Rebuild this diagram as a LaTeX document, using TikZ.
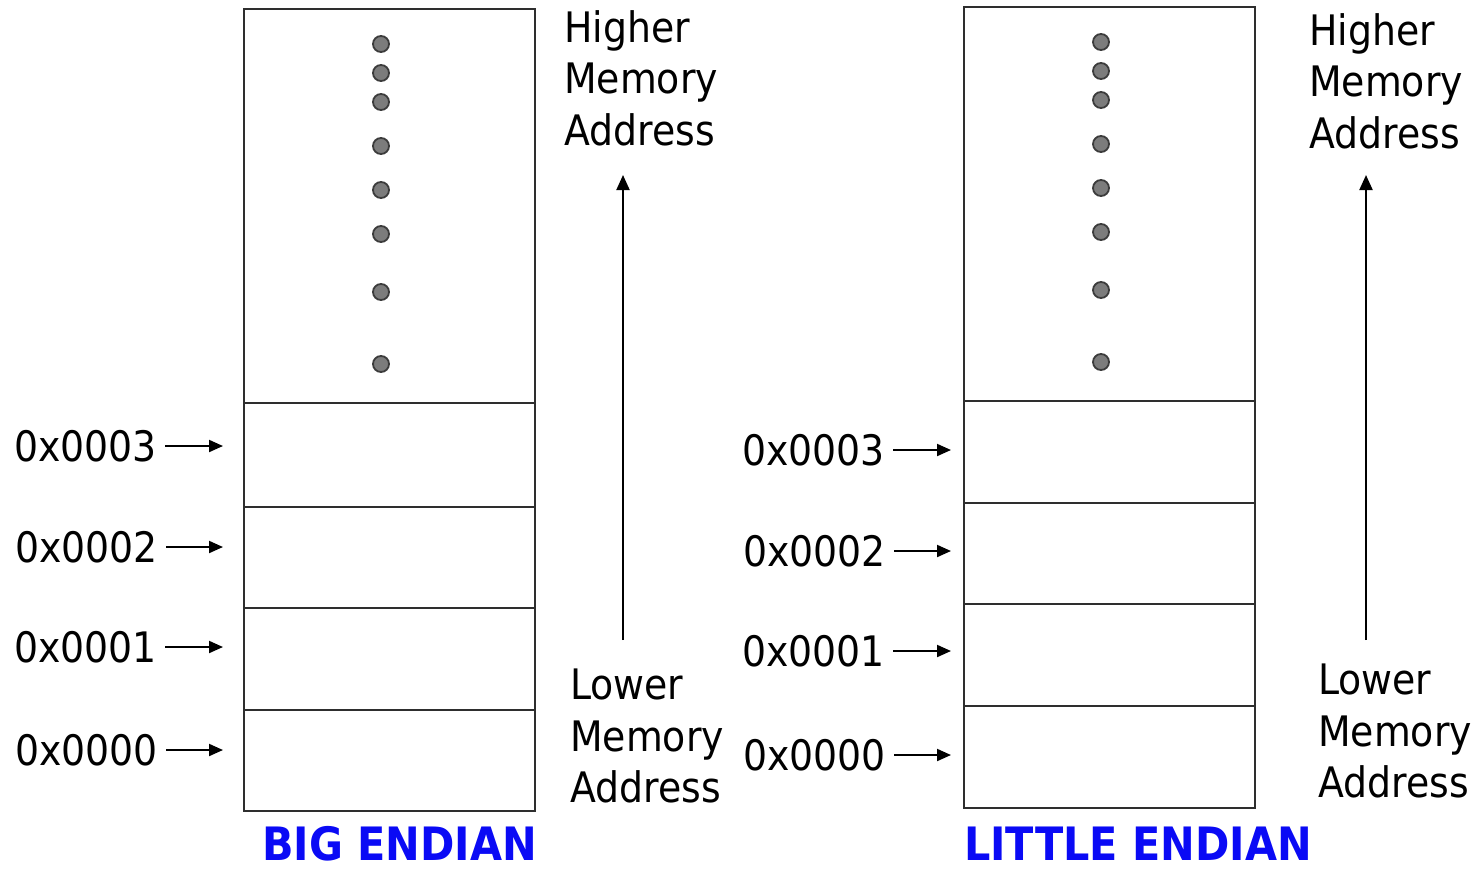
\documentclass[tikz,border=0pt]{standalone}
\usepackage{fontspec}
\setmainfont{DejaVu Sans}[FakeStretch=0.9]
\usetikzlibrary{arrows.meta}

\definecolor{cellline}{HTML}{2E2E2E}
\definecolor{dotfill}{HTML}{7C7C7C}
\definecolor{dotline}{HTML}{3C3C3C}
\definecolor{titleblue}{HTML}{0A0AF5}

\tikzset{
  cell/.style={draw=cellline, line width=2pt, inner sep=0pt, minimum width=291pt},
  memdot/.style={circle, fill=dotfill, draw=dotline, line width=1.8pt, minimum size=16pt, inner sep=0pt},
  addr/.style={inner sep=0pt, anchor=east, font=\fontsize{42}{50}\selectfont},
  side/.style={inner sep=0pt, anchor=north west, align=left, font=\fontsize{42}{51.5}\selectfont},
  title/.style={inner sep=0pt, anchor=base west, text=titleblue, font=\bfseries\fontsize{46}{50}\selectfont},
  ptr/.style={line width=2pt, -{Triangle[length=14pt,width=12pt]}, shorten <=8pt},
  dirarrow/.style={line width=2pt, -{Triangle[length=15pt,width=13pt]}}
}

\begin{document}
\begin{tikzpicture}[x=1pt, y=-1pt]
\useasboundingbox[fill=white] (0,0) rectangle (1479,871);

% ---------- big endian column ----------
\node[cell, minimum height=394pt, anchor=north west] (bTop) at (243,8) {};
\node[cell, minimum height=104pt, anchor=north west] (b3) at (243,402) {};
\node[cell, minimum height=101pt, anchor=north west] (b2) at (243,506) {};
\node[cell, minimum height=102pt, anchor=north west] (b1) at (243,607) {};
\node[cell, minimum height=101pt, anchor=north west] (b0) at (243,709) {};

\foreach \y [count=\i] in {44,73,102,146,190,234,292,364}
  \node[memdot] (bd\i) at (381,\y) {};

\node[addr] (ba3) at (157,446) {0x0003};
\node[addr] (ba2) at (158,547) {0x0002};
\node[addr] (ba1) at (157,647) {0x0001};
\node[addr] (ba0) at (158,750) {0x0000};
\foreach \k in {3,2,1,0}
  \draw[ptr, shorten >=20pt] (ba\k.east) -- (ba\k.east -| b\k.west);

\node[side] (bHigh) at (564,10) {Higher\\Memory\\Address};
\node[side] (bLow) at (570,669) {Lower\\Memory\\Address};
\coordinate (bFrom) at (623,640);
\coordinate (bTo) at (623,175);
\draw[dirarrow] (bFrom) -- (bTo);

\node[title] (bTitle) at (262,860) {BIG ENDIAN};

% ---------- little endian column ----------
\node[cell, minimum height=394pt, anchor=north west] (lTop) at (963,6) {};
\node[cell, minimum height=102pt, anchor=north west] (l3) at (963,400) {};
\node[cell, minimum height=101pt, anchor=north west] (l2) at (963,502) {};
\node[cell, minimum height=102pt, anchor=north west] (l1) at (963,603) {};
\node[cell, minimum height=102pt, anchor=north west] (l0) at (963,705) {};

\foreach \y [count=\i] in {42,71,100,144,188,232,290,362}
  \node[memdot] (ld\i) at (1101,\y) {};

\node[addr] (la3) at (885,450) {0x0003};
\node[addr] (la2) at (886,551) {0x0002};
\node[addr] (la1) at (885,651) {0x0001};
\node[addr] (la0) at (886,755) {0x0000};
\foreach \k in {3,2,1,0}
  \draw[ptr, shorten >=12pt] (la\k.east) -- (la\k.east -| l\k.west);

\node[side] (lHigh) at (1309,13) {Higher\\Memory\\Address};
\node[side] (lLow) at (1318,664) {Lower\\Memory\\Address};
\coordinate (lFrom) at (1366,640);
\coordinate (lTo) at (1366,175);
\draw[dirarrow] (lFrom) -- (lTo);

\node[title] (lTitle) at (964,860) {LITTLE ENDIAN};
\end{tikzpicture}
\end{document}
